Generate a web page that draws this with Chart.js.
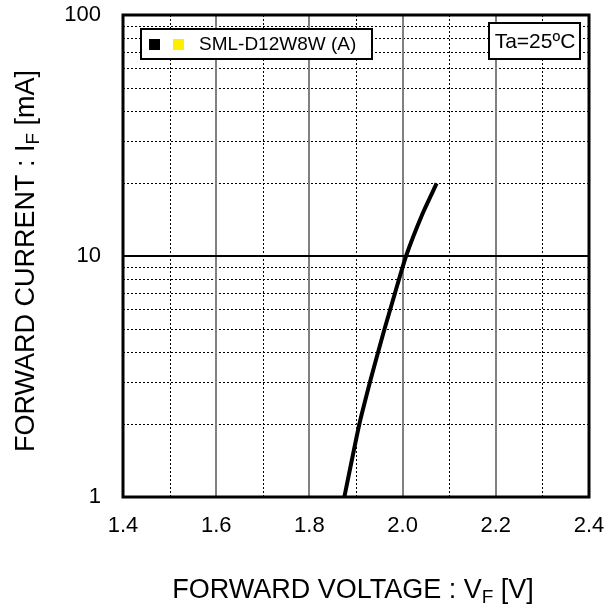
<!DOCTYPE html>
<html>
<head>
<meta charset="utf-8">
<script src="https://cdn.jsdelivr.net/npm/chart.js@4/dist/chart.umd.min.js"></script>
<style>
  html, body { margin: 0; padding: 0; background: #fff; }
  #wrap { width: 605px; height: 609px; }
</style>
</head>
<body>
<div id="wrap"><canvas id="c" width="605" height="609"></canvas></div>
<script>
// forward voltage (V) vs forward current (mA)
const voltage = [1.875, 1.907, 1.930, 1.9475, 1.9615, 1.9835, 2.0075, 2.043, 2.073];
const current = [1, 2, 3, 4, 5, 7, 10, 15, 20];

const xMajorGrid = [1.6, 1.8, 2.0, 2.2];
const xMinorGrid = [1.5, 1.7, 1.9, 2.1, 2.3];
const yMajorGrid = [10];
const yMinorGrid = [2, 3, 4, 5, 6, 7, 8, 9, 20, 30, 40, 50, 60, 70, 80, 90];
const yTickLabels = [1, 10, 100];

const seriesName = "SML-D12W8W (A)";
const condition = "Ta=25ºC";

const FONT = "'Liberation Sans', Arial, sans-serif";

function sub(ctx, parts, x, y) {
  // parts: [text, isSubscript]
  let cx = x;
  parts.forEach(([t, s]) => {
    ctx.font = (s ? "19px " : "27px ") + FONT;
    ctx.fillText(t, cx, s ? y + 5 : y);
    cx += ctx.measureText(t).width;
  });
  return cx - x;
}
function measureParts(ctx, parts) {
  let w = 0;
  parts.forEach(([t, s]) => {
    ctx.font = (s ? "19px " : "27px ") + FONT;
    w += ctx.measureText(t).width;
  });
  return w;
}

const gridPlugin = {
  id: "grid",
  beforeDatasetsDraw(chart) {
    const { ctx, chartArea: a, scales: { x, y } } = chart;
    ctx.save();
    // minor dotted lines
    ctx.strokeStyle = "#000";
    ctx.lineWidth = 1;
    ctx.setLineDash([2, 2]);
    xMinorGrid.forEach(v => {
      const px = Math.round(x.getPixelForValue(v)) + 0.5;
      ctx.beginPath(); ctx.moveTo(px, a.top); ctx.lineTo(px, a.bottom); ctx.stroke();
    });
    yMinorGrid.forEach(v => {
      const py = Math.round(y.getPixelForValue(v)) + 0.5;
      ctx.beginPath(); ctx.moveTo(a.left, py); ctx.lineTo(a.right, py); ctx.stroke();
    });
    ctx.setLineDash([]);
    // major x lines, grey
    ctx.strokeStyle = "#808080";
    ctx.lineWidth = 2;
    xMajorGrid.forEach(v => {
      const px = Math.round(x.getPixelForValue(v));
      ctx.beginPath(); ctx.moveTo(px, a.top); ctx.lineTo(px, a.bottom); ctx.stroke();
    });
    // decade line
    ctx.strokeStyle = "#000";
    ctx.lineWidth = 2;
    yMajorGrid.forEach(v => {
      const py = Math.round(y.getPixelForValue(v));
      ctx.beginPath(); ctx.moveTo(a.left, py); ctx.lineTo(a.right, py); ctx.stroke();
    });
    ctx.restore();
  },
  afterDatasetsDraw(chart) {
    const { ctx, chartArea: a } = chart;
    ctx.save();
    // frame
    ctx.strokeStyle = "#000";
    ctx.lineWidth = 3;
    ctx.strokeRect(a.left, a.top, a.right - a.left, a.bottom - a.top);

    // legend box
    ctx.lineWidth = 2;
    ctx.fillStyle = "#fff";
    ctx.fillRect(141, 29, 231, 30);
    ctx.strokeRect(141, 29, 231, 30);
    ctx.fillStyle = "#000";
    ctx.fillRect(149, 39, 11, 11);
    ctx.fillStyle = "#ffee00";
    ctx.fillRect(173, 39, 11, 11);
    ctx.fillStyle = "#000";
    ctx.font = "19px " + FONT;
    ctx.textBaseline = "middle";
    ctx.textAlign = "left";
    ctx.fillText(seriesName, 199, 45);

    // condition box
    ctx.fillStyle = "#fff";
    ctx.fillRect(489, 23, 91, 36);
    ctx.strokeRect(489, 23, 91, 36);
    ctx.fillStyle = "#000";
    ctx.font = "21px " + FONT;
    ctx.textAlign = "center";
    ctx.fillText(condition, 535, 42);

    // axis titles
    ctx.textAlign = "left";
    ctx.textBaseline = "alphabetic";
    const xt = [["FORWARD VOLTAGE : V", false], ["F", true], [" [V]", false]];
    const xw = measureParts(ctx, xt);
    sub(ctx, xt, (a.left + a.right) / 2 - 3 - xw / 2, 598);

    const yt = [["FORWARD CURRENT : I", false], ["F", true], [" [mA]", false]];
    const yw = measureParts(ctx, yt);
    ctx.translate(34, 261);
    ctx.rotate(-Math.PI / 2);
    sub(ctx, yt, -yw / 2, 0);
    ctx.restore();
  }
};

function noPad(s) {
  s.paddingTop = 0; s.paddingBottom = 0; s.paddingLeft = 0; s.paddingRight = 0;
}

new Chart(document.getElementById("c"), {
  type: "scatter",
  data: {
    datasets: [{
      label: seriesName,
      data: voltage.map((v, i) => ({ x: v, y: current[i] })),
      showLine: true,
      borderColor: "#000",
      borderWidth: 4,
      pointRadius: 0,
      tension: 0.2
    }]
  },
  options: {
    responsive: false,
    animation: false,
    layout: { padding: { top: 15, right: 16, left: 0, bottom: 0 } },
    plugins: { legend: { display: false }, tooltip: { enabled: false } },
    scales: {
      x: {
        type: "linear",
        min: 1.4,
        max: 2.4,
        grid: { display: false },
        border: { display: false },
        ticks: {
          stepSize: 0.2,
          padding: 8,
          color: "#000",
          font: { family: FONT, size: 22 },
          callback: v => v.toFixed(1)
        },
        afterFit: s => { s.height = 112; noPad(s); }
      },
      y: {
        type: "logarithmic",
        min: 1,
        max: 100,
        grid: { display: false },
        border: { display: false },
        ticks: {
          autoSkip: false,
          padding: 14,
          color: "#000",
          font: { family: FONT, size: 22 },
          callback: v => yTickLabels.includes(v) ? String(v) : ""
        },
        afterFit: s => { s.width = 123; noPad(s); }
      }
    }
  },
  plugins: [gridPlugin]
});
</script>
</body>
</html>
